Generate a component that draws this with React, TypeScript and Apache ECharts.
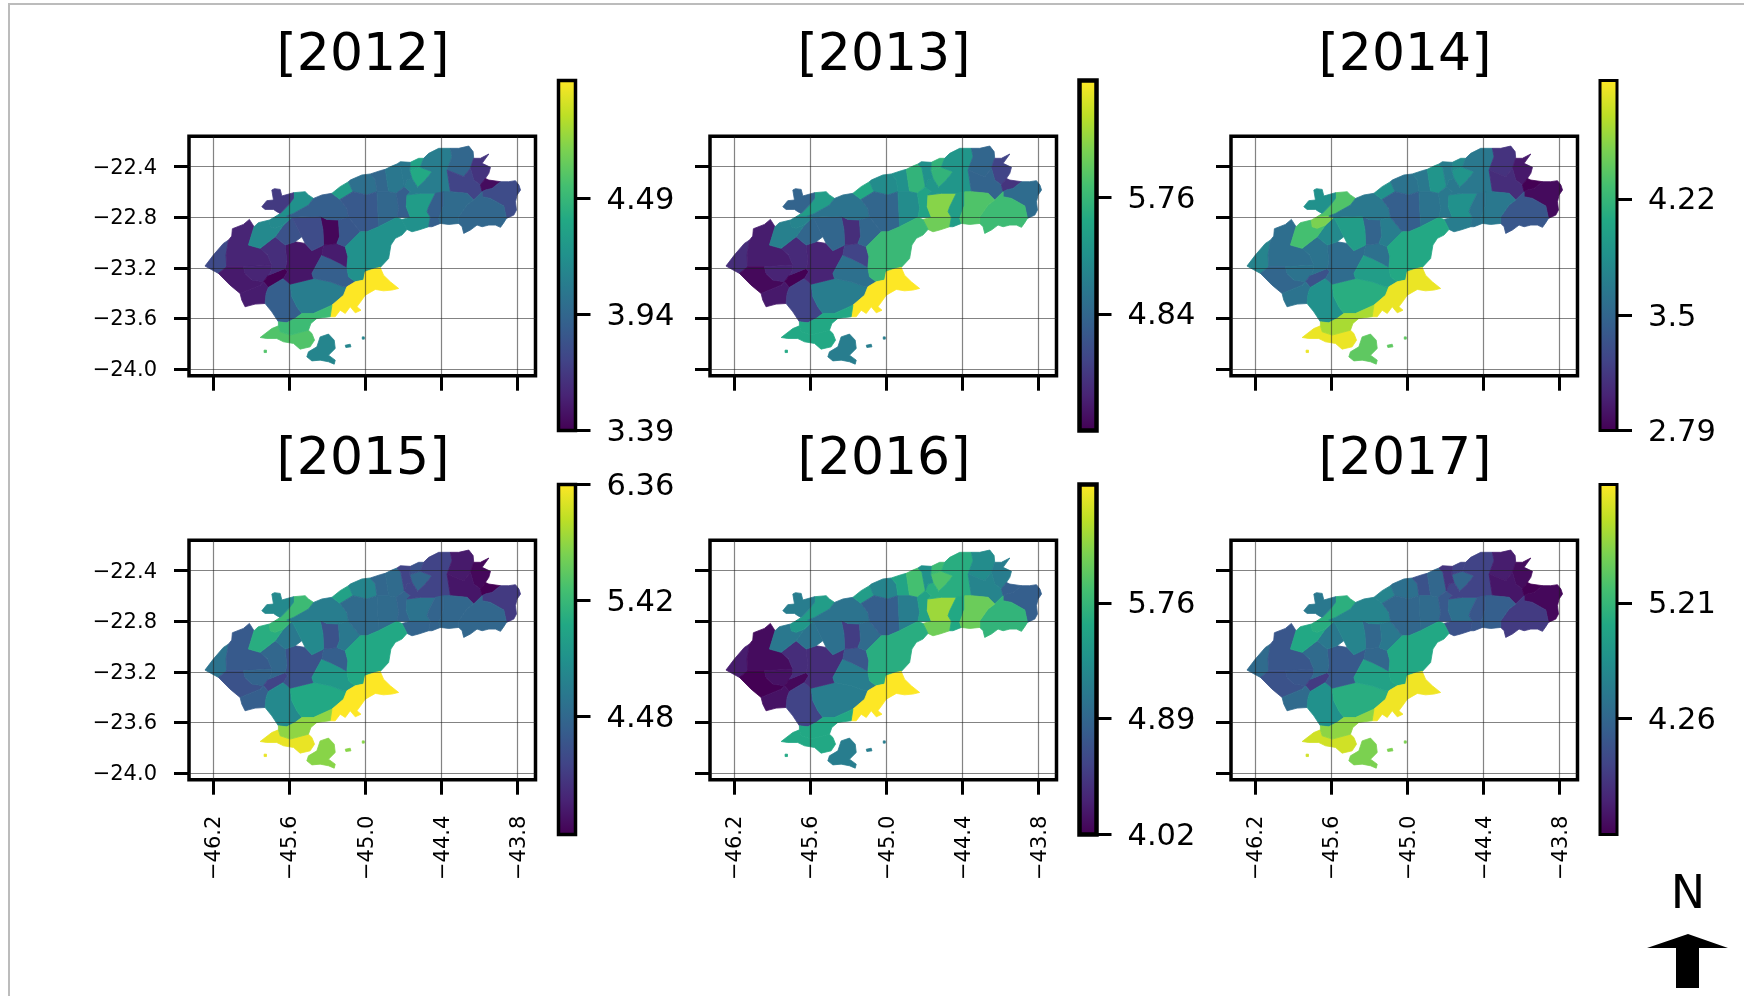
import React, { useEffect, useRef } from "react";
import * as echarts from "echarts";

type Pt = [number, number];

const YEARS = ["[2012]", "[2013]", "[2014]", "[2015]", "[2016]", "[2017]"];
const LON_TICKS = [-46.2, -45.6, -45.0, -44.4, -43.8];
const LAT_TICKS = [-24.0, -23.6, -23.2, -22.8, -22.4];

const BAR_MIN = [3.39, 3.92, 2.79, 3.52, 4.02, 3.31];
const BAR_MAX = [5.05, 6.68, 4.95, 6.36, 6.65, 6.18];
const BAR_TICKS = [
  [3.39, 3.94, 4.49],
  [4.84, 5.76],
  [2.79, 3.5, 4.22],
  [4.48, 5.42, 6.36],
  [4.02, 4.89, 5.76],
  [4.26, 5.21],
];

const VIRIDIS = [
  "#440154", "#482475", "#414487", "#355f8d", "#2a788e", "#21918c",
  "#22a884", "#44bf70", "#7ad151", "#bddf26", "#fde725",
];

// Municipality outlines in [longitude, latitude].
const DISTRICTS: Pt[][] = [
  [[-46.266,-23.186],[-46.2,-23.099],[-46.121,-23.007],[-46.081,-22.981],[-46.1,-23.099],[-46.095,-23.192],[-46.16,-23.244]],
  [[-46.081,-22.981],[-46.055,-22.949],[-46.05,-22.891],[-45.963,-22.857],[-45.916,-22.817],[-45.879,-22.875],[-45.923,-23.02],[-45.831,-23.046],[-45.773,-23.099],[-45.739,-23.178],[-45.963,-23.192],[-46.095,-23.192],[-46.1,-23.099]],
  [[-46.16,-23.244],[-46.095,-23.192],[-45.963,-23.192],[-45.95,-23.244],[-45.897,-23.297],[-45.805,-23.31],[-45.831,-23.337],[-45.989,-23.403],[-46.068,-23.337]],
  [[-45.963,-23.192],[-45.739,-23.178],[-45.739,-23.218],[-45.766,-23.258],[-45.805,-23.31],[-45.897,-23.297],[-45.95,-23.244]],
  [[-45.805,-23.31],[-45.766,-23.258],[-45.634,-23.205],[-45.615,-23.231],[-45.647,-23.284],[-45.766,-23.355]],
  [[-45.989,-23.403],[-45.831,-23.337],[-45.805,-23.31],[-45.766,-23.355],[-45.784,-23.403],[-45.792,-23.482],[-45.871,-23.487],[-45.95,-23.508],[-45.976,-23.455]],
  [[-45.766,-23.355],[-45.647,-23.284],[-45.594,-23.329],[-45.581,-23.429],[-45.542,-23.508],[-45.502,-23.561],[-45.555,-23.6],[-45.621,-23.635],[-45.687,-23.627],[-45.739,-23.548],[-45.792,-23.482],[-45.784,-23.403]],
  [[-45.594,-23.329],[-45.41,-23.284],[-45.279,-23.31],[-45.173,-23.35],[-45.147,-23.35],[-45.173,-23.416],[-45.265,-23.495],[-45.41,-23.561],[-45.502,-23.561],[-45.542,-23.508],[-45.581,-23.429]],
  [[-45.634,-23.02],[-45.555,-22.994],[-45.476,-23.007],[-45.423,-23.065],[-45.331,-23.02],[-45.344,-23.099],[-45.423,-23.244],[-45.41,-23.284],[-45.594,-23.329],[-45.647,-23.284],[-45.615,-23.231],[-45.634,-23.205],[-45.621,-23.152]],
  [[-45.831,-23.046],[-45.713,-22.954],[-45.634,-23.02],[-45.621,-23.152],[-45.634,-23.205],[-45.766,-23.258],[-45.739,-23.218],[-45.739,-23.178],[-45.773,-23.099]],
  [[-45.344,-23.099],[-45.279,-23.126],[-45.2,-23.165],[-45.147,-23.197],[-45.134,-23.271],[-45.081,-23.31],[-45.147,-23.35],[-45.173,-23.35],[-45.279,-23.31],[-45.41,-23.284],[-45.423,-23.244]],
  [[-45.331,-23.02],[-45.226,-23.007],[-45.16,-23.033],[-45.139,-23.112],[-45.147,-23.197],[-45.2,-23.165],[-45.279,-23.126],[-45.344,-23.099]],
  [[-45.358,-22.791],[-45.305,-22.817],[-45.213,-22.822],[-45.205,-22.954],[-45.226,-23.007],[-45.331,-23.02],[-45.336,-22.901]],
  [[-45.713,-22.954],[-45.647,-22.862],[-45.581,-22.801],[-45.542,-22.875],[-45.502,-22.954],[-45.555,-22.994],[-45.634,-23.02]],
  [[-45.581,-22.801],[-45.358,-22.791],[-45.336,-22.901],[-45.331,-23.02],[-45.423,-23.065],[-45.476,-23.007],[-45.502,-22.954],[-45.542,-22.875]],
  [[-45.923,-23.02],[-45.879,-22.875],[-45.845,-22.843],[-45.758,-22.822],[-45.752,-22.875],[-45.713,-22.888],[-45.647,-22.862],[-45.713,-22.954],[-45.831,-23.046]],
  [[-45.713,-22.796],[-45.673,-22.77],[-45.608,-22.704],[-45.568,-22.651],[-45.568,-22.606],[-45.476,-22.598],[-45.45,-22.624],[-45.41,-22.651],[-45.45,-22.704],[-45.568,-22.77],[-45.621,-22.791]],
  [[-45.758,-22.822],[-45.713,-22.796],[-45.621,-22.791],[-45.581,-22.801],[-45.647,-22.862],[-45.713,-22.888],[-45.752,-22.875]],
  [[-45.818,-22.717],[-45.779,-22.669],[-45.726,-22.664],[-45.739,-22.585],[-45.718,-22.574],[-45.673,-22.58],[-45.66,-22.632],[-45.568,-22.606],[-45.568,-22.651],[-45.608,-22.704],[-45.673,-22.77],[-45.7,-22.756],[-45.726,-22.738],[-45.792,-22.738]],
  [[-45.41,-22.651],[-45.344,-22.624],[-45.265,-22.611],[-45.2,-22.659],[-45.147,-22.73],[-45.134,-22.801],[-45.213,-22.822],[-45.305,-22.817],[-45.358,-22.791],[-45.581,-22.801],[-45.621,-22.791],[-45.568,-22.77],[-45.45,-22.704]],
  [[-45.213,-22.822],[-45.134,-22.801],[-45.042,-22.915],[-45.16,-23.033],[-45.226,-23.007],[-45.205,-22.954]],
  [[-45.265,-22.611],[-45.2,-22.558],[-45.134,-22.519],[-45.1,-22.598],[-45.2,-22.659]],
  [[-45.134,-22.519],[-45.121,-22.506],[-45.029,-22.466],[-44.963,-22.458],[-44.923,-22.506],[-44.91,-22.598],[-44.989,-22.624],[-45.1,-22.598]],
  [[-45.2,-22.659],[-45.1,-22.598],[-44.989,-22.624],[-44.91,-22.598],[-44.897,-22.875],[-44.989,-22.915],[-45.042,-22.915],[-45.134,-22.801],[-45.147,-22.73]],
  [[-44.963,-22.458],[-44.884,-22.432],[-44.844,-22.421],[-44.818,-22.598],[-44.91,-22.598],[-44.923,-22.506]],
  [[-44.844,-22.421],[-44.792,-22.395],[-44.752,-22.379],[-44.721,-22.413],[-44.694,-22.558],[-44.757,-22.611],[-44.818,-22.598]],
  [[-44.91,-22.598],[-44.818,-22.598],[-44.757,-22.611],[-44.739,-22.73],[-44.752,-22.801],[-44.897,-22.875]],
  [[-44.757,-22.611],[-44.694,-22.558],[-44.647,-22.598],[-44.673,-22.624],[-44.679,-22.717],[-44.647,-22.801],[-44.752,-22.801],[-44.739,-22.73]],
  [[-44.673,-22.624],[-44.568,-22.611],[-44.45,-22.611],[-44.502,-22.717],[-44.515,-22.756],[-44.489,-22.801],[-44.647,-22.801],[-44.679,-22.717]],
  [[-44.713,-22.817],[-44.647,-22.801],[-44.489,-22.801],[-44.502,-22.875],[-44.581,-22.901],[-44.634,-22.915],[-44.673,-22.896]],
  [[-45.16,-23.033],[-45.042,-22.915],[-44.989,-22.915],[-44.897,-22.875],[-44.752,-22.801],[-44.713,-22.817],[-44.673,-22.896],[-44.713,-22.941],[-44.765,-22.967],[-44.8,-23.02],[-44.818,-23.126],[-44.884,-23.197],[-44.923,-23.205],[-45.002,-23.231],[-45.015,-23.297],[-45.081,-23.31],[-45.134,-23.271],[-45.147,-23.197],[-45.139,-23.112]],
  [[-44.652,-22.432],[-44.568,-22.405],[-44.476,-22.44],[-44.529,-22.506],[-44.589,-22.564],[-44.634,-22.493]],
  [[-44.647,-22.366],[-44.581,-22.334],[-44.542,-22.334],[-44.568,-22.405],[-44.652,-22.432]],
  [[-44.542,-22.334],[-44.502,-22.295],[-44.423,-22.255],[-44.331,-22.255],[-44.318,-22.321],[-44.357,-22.427],[-44.331,-22.598],[-44.45,-22.611],[-44.568,-22.611],[-44.673,-22.624],[-44.647,-22.598],[-44.694,-22.558],[-44.673,-22.506],[-44.634,-22.493],[-44.589,-22.564],[-44.529,-22.506],[-44.476,-22.44],[-44.568,-22.405]],
  [[-44.331,-22.255],[-44.265,-22.255],[-44.186,-22.237],[-44.152,-22.281],[-44.147,-22.334],[-44.173,-22.413],[-44.226,-22.479],[-44.357,-22.427],[-44.318,-22.321]],
  [[-44.147,-22.334],[-44.094,-22.334],[-44.028,-22.3],[-44.081,-22.374],[-44.015,-22.405],[-44.028,-22.453],[-44.055,-22.493],[-44.094,-22.545],[-44.147,-22.506],[-44.173,-22.413]],
  [[-44.357,-22.427],[-44.226,-22.479],[-44.173,-22.413],[-44.147,-22.506],[-44.094,-22.545],[-44.081,-22.598],[-44.147,-22.664],[-44.2,-22.611],[-44.331,-22.598]],
  [[-44.055,-22.493],[-44.028,-22.506],[-43.936,-22.519],[-44.002,-22.572],[-44.055,-22.585],[-44.081,-22.598],[-44.094,-22.545]],
  [[-44.055,-22.585],[-44.002,-22.572],[-43.936,-22.519],[-43.871,-22.519],[-43.818,-22.511],[-43.791,-22.545],[-43.778,-22.585],[-43.805,-22.624],[-43.818,-22.677],[-43.81,-22.743],[-43.831,-22.783],[-43.889,-22.809],[-43.91,-22.711],[-44.015,-22.651],[-44.081,-22.638],[-44.081,-22.598]],
  [[-44.147,-22.664],[-44.081,-22.598],[-44.081,-22.638],[-44.015,-22.651],[-43.91,-22.711],[-43.889,-22.809],[-43.91,-22.843],[-43.936,-22.88],[-43.976,-22.862],[-44.028,-22.862],[-44.081,-22.875],[-44.121,-22.862],[-44.173,-22.901],[-44.226,-22.928],[-44.239,-22.875],[-44.265,-22.849],[-44.265,-22.796],[-44.2,-22.704]],
  [[-44.45,-22.611],[-44.384,-22.598],[-44.384,-22.704],[-44.423,-22.809],[-44.41,-22.849],[-44.476,-22.875],[-44.502,-22.875],[-44.489,-22.801],[-44.515,-22.756],[-44.502,-22.717]],
  [[-44.384,-22.598],[-44.331,-22.598],[-44.2,-22.611],[-44.147,-22.664],[-44.2,-22.704],[-44.265,-22.796],[-44.265,-22.849],[-44.344,-22.857],[-44.41,-22.849],[-44.423,-22.809],[-44.384,-22.704]],
  [[-44.923,-23.205],[-44.884,-23.197],[-44.858,-23.258],[-44.805,-23.31],[-44.739,-23.363],[-44.792,-23.376],[-44.858,-23.382],[-44.923,-23.371],[-45.002,-23.416],[-45.029,-23.455],[-45.068,-23.508],[-45.036,-23.535],[-45.081,-23.556],[-45.121,-23.508],[-45.16,-23.561],[-45.2,-23.535],[-45.239,-23.587],[-45.279,-23.587],[-45.265,-23.495],[-45.173,-23.416],[-45.147,-23.35],[-45.081,-23.31],[-45.015,-23.297],[-45.002,-23.231]],
  [[-45.831,-23.751],[-45.739,-23.68],[-45.687,-23.659],[-45.673,-23.706],[-45.594,-23.732],[-45.45,-23.693],[-45.423,-23.719],[-45.402,-23.772],[-45.437,-23.825],[-45.516,-23.843],[-45.568,-23.798],[-45.647,-23.785],[-45.7,-23.759],[-45.779,-23.759]],
  [[-45.687,-23.627],[-45.621,-23.635],[-45.555,-23.6],[-45.502,-23.561],[-45.41,-23.561],[-45.265,-23.495],[-45.279,-23.587],[-45.384,-23.6],[-45.431,-23.64],[-45.45,-23.693],[-45.594,-23.732],[-45.673,-23.706],[-45.687,-23.659]],
  [[-45.463,-23.904],[-45.45,-23.864],[-45.384,-23.825],[-45.358,-23.746],[-45.292,-23.724],[-45.247,-23.772],[-45.239,-23.838],[-45.292,-23.891],[-45.239,-23.93],[-45.247,-23.962],[-45.292,-23.943],[-45.358,-23.93],[-45.423,-23.936]],
  [[-44.752,-22.379],[-44.726,-22.361],[-44.647,-22.366],[-44.652,-22.432],[-44.634,-22.493],[-44.673,-22.506],[-44.694,-22.558],[-44.721,-22.413]],
];

// Small islets, keyed by the district they belong to.
const ISLETS: Record<number, Pt[][]> = {
  43: [[[-45.8,-23.851],[-45.781,-23.851],[-45.781,-23.87],[-45.8,-23.87]]],
  45: [
    [[-45.16,-23.812],[-45.121,-23.804],[-45.115,-23.825],[-45.155,-23.83]],
    [[-45.026,-23.746],[-45.01,-23.746],[-45.01,-23.764],[-45.026,-23.764]],
  ],
};

const VALUES_2012 = [3.76,3.56,3.51,3.56,3.39,3.52,3.89,4.09,3.49,3.61,3.89,3.52,3.42,3.81,3.77,4.17,4.22,4.17,3.67,3.89,3.84,4.30,4.00,3.85,3.94,4.05,3.94,3.89,4.30,4.22,4.22,4.39,4.35,4.09,3.94,3.64,3.72,3.44,3.77,3.94,3.89,3.97,5.05,4.59,4.52,4.14,4.05];
const VALUES_2013 = [4.28,4.14,3.98,4.20,3.92,4.11,4.47,5.08,4.20,4.25,4.94,4.47,4.28,4.83,4.83,5.11,5.44,5.16,4.80,4.97,4.83,5.58,5.24,4.83,5.30,5.71,5.24,5.52,6.18,6.07,5.77,5.71,5.71,5.36,4.83,4.47,4.80,4.33,4.89,5.80,5.44,5.91,6.68,5.58,5.58,5.08,5.30];
const VALUES_2014 = [3.76,3.57,3.50,3.61,3.33,3.61,3.87,4.13,3.55,3.61,3.98,3.59,3.48,3.81,3.98,4.30,4.35,4.52,3.87,3.65,3.70,3.87,3.61,3.44,3.65,3.91,3.61,3.65,3.87,3.70,4.09,3.91,3.81,3.65,3.11,2.94,3.07,2.79,2.85,3.37,3.61,3.65,4.89,4.89,4.67,4.41,3.70];
const VALUES_2015 = [4.60,4.32,4.23,4.43,4.09,4.37,4.85,5.22,4.23,4.46,5.03,4.37,4.23,4.66,4.85,5.28,5.45,5.42,4.85,4.71,4.66,5.14,4.80,4.51,4.46,4.51,4.51,4.43,4.60,4.43,5.22,4.46,4.23,4.09,3.72,3.58,3.69,3.52,4.00,4.46,4.43,4.46,6.36,6.27,5.88,5.85,4.09];
const VALUES_2016 = [4.23,4.10,4.02,4.15,4.07,4.15,4.55,5.12,4.36,4.36,5.12,4.73,4.49,5.02,4.99,5.07,5.47,5.41,5.12,5.02,4.94,5.47,5.20,4.81,5.55,5.86,5.12,5.52,6.26,6.07,5.65,5.91,5.81,5.65,5.28,5.12,5.20,4.81,4.81,5.73,5.60,6.05,6.65,5.60,5.60,5.12,5.34];
const VALUES_2017 = [4.31,4.08,4.03,4.08,3.80,4.31,4.75,5.09,4.11,4.31,4.95,4.26,4.26,4.46,4.60,5.03,5.12,5.09,4.46,4.60,4.46,4.60,4.37,4.26,4.03,4.26,4.31,4.11,4.37,4.03,5.03,4.26,3.88,3.88,3.54,3.40,3.48,3.31,3.37,3.80,4.08,4.17,6.12,5.98,5.69,5.61,3.74];
const VALUES = [VALUES_2012, VALUES_2013, VALUES_2014, VALUES_2015, VALUES_2016, VALUES_2017];

const FONT = "DejaVu Sans";
const MAP_LEFT = [189, 710, 1231];
const BAR_LEFT = [558.5, 1079.5, 1600];
const BAR_BORDER = [3.5, 4.5, 3];
const ROW_SHIFT = 404;

function hexToRgb(h: string) {
  return [1, 3, 5].map((i) => parseInt(h.slice(i, i + 2), 16));
}
function viridis(t: number) {
  const x = Math.max(0, Math.min(1, t)) * (VIRIDIS.length - 1);
  const i = Math.min(Math.floor(x), VIRIDIS.length - 2);
  const a = hexToRgb(VIRIDIS[i]);
  const b = hexToRgb(VIRIDIS[i + 1]);
  const f = x - i;
  const c = a.map((v, k) => Math.round(v + (b[k] - v) * f));
  return `rgb(${c[0]},${c[1]},${c[2]})`;
}
const minus = (v: number, d: number) => "\u2212" + Math.abs(v).toFixed(d);

function buildOption() {
  const grid: any[] = [];
  const xAxis: any[] = [];
  const yAxis: any[] = [];
  const series: any[] = [];
  const title: any[] = [];

  YEARS.forEach((year, p) => {
    const col = p % 3;
    const row = Math.floor(p / 3);
    const shift = row * ROW_SHIFT;
    title.push({
      text: year,
      left: MAP_LEFT[col] + 169,
      top: 21 + shift,
      textAlign: "center",
      textStyle: { fontFamily: FONT, fontSize: 52, fontWeight: "normal", color: "#000" },
    });
    grid.push({
      left: MAP_LEFT[col], top: 136.3 + shift, width: 346.5, height: 239.4,
      show: true, borderColor: "#000", borderWidth: 3.5, backgroundColor: "#fff", containLabel: false,
    });
    const tick = { show: true, length: 15, lineStyle: { color: "#000", width: 3 } };
    const split = { show: true, lineStyle: { color: "rgba(30,30,30,0.55)", width: 1.2 } };
    xAxis.push({
      type: "value", gridIndex: p, min: -46.392, max: -43.66, z: 5,
      axisLine: { show: false },
      axisTick: { ...tick, customValues: LON_TICKS },
      splitLine: split,
      axisLabel: {
        show: row === 1, customValues: LON_TICKS, rotate: 90, margin: 36,
        fontFamily: FONT, fontSize: 21, color: "#000",
        formatter: (v: number) => minus(v, 1),
      },
    });
    yAxis.push({
      type: "value", gridIndex: p, min: -24.053, max: -22.16, z: 5,
      axisLine: { show: false },
      axisTick: { ...tick, customValues: LAT_TICKS },
      splitLine: split,
      axisLabel: {
        show: col === 0, customValues: LAT_TICKS, margin: 32,
        fontFamily: FONT, fontSize: 21, color: "#000",
        formatter: (v: number) => minus(v, 1),
      },
    });
    const lo = BAR_MIN[p];
    const hi = BAR_MAX[p];
    series.push({
      type: "custom", xAxisIndex: p, yAxisIndex: p, z: 1, silent: true, clip: false,
      data: VALUES[p].map((v, i) => [i, v]),
      renderItem: (_: any, api: any) => {
        const idx = api.value(0);
        const fill = viridis((api.value(1) - lo) / (hi - lo));
        const rings = [DISTRICTS[idx], ...(ISLETS[idx] || [])];
        return {
          type: "group",
          children: rings.map((r) => ({
            type: "polygon",
            shape: { points: r.map((q) => api.coord(q)) },
            style: { fill, stroke: fill, lineWidth: 0.8 },
          })),
        };
      },
    });
  });

  YEARS.forEach((_, p) => {
    const col = p % 3;
    const row = Math.floor(p / 3);
    const k = p + 6;
    const lo = BAR_MIN[p];
    const hi = BAR_MAX[p];
    grid.push({ left: BAR_LEFT[col], top: 80.5 + row * ROW_SHIFT, width: 17, height: 350 });
    xAxis.push({ type: "value", gridIndex: k, min: 0, max: 1, show: false });
    yAxis.push({
      type: "value", gridIndex: k, position: "right", min: lo, max: hi, z: 5,
      axisLine: { show: false, onZero: false },
      splitLine: { show: false },
      axisTick: { show: true, length: 15, customValues: BAR_TICKS[p], lineStyle: { color: "#000", width: 3 } },
      axisLabel: {
        show: true, customValues: BAR_TICKS[p], margin: 31,
        fontFamily: FONT, fontSize: 30.5, color: "#000",
      },
    });
    series.push({
      type: "custom", xAxisIndex: k, yAxisIndex: k, z: 1, silent: true, clip: false,
      data: [[0, 1, lo, hi]],
      renderItem: (_p: any, api: any) => {
        const a = api.coord([api.value(0), api.value(3)]);
        const b = api.coord([api.value(1), api.value(2)]);
        return {
          type: "rect",
          shape: { x: a[0], y: a[1], width: b[0] - a[0], height: b[1] - a[1] },
          style: {
            fill: {
              type: "linear", x: 0, y: 1, x2: 0, y2: 0,
              colorStops: VIRIDIS.map((color, i) => ({ offset: i / (VIRIDIS.length - 1), color })),
            },
            stroke: "#000",
            lineWidth: BAR_BORDER[col],
          },
        };
      },
    });
  });

  return {
    animation: false,
    backgroundColor: "#fff",
    tooltip: { show: false },
    title,
    grid,
    xAxis,
    yAxis,
    series,
    graphic: [
      {
        type: "polyline",
        shape: { points: [[9, 996], [9, 4], [1744, 4]] },
        style: { stroke: "#bcbcbc", lineWidth: 2, fill: "none" },
      },
      {
        type: "text", x: 1688, y: 892,
        style: { text: "N", fontFamily: FONT, fontSize: 46, fill: "#000", align: "center", verticalAlign: "middle" },
      },
      {
        type: "polygon",
        shape: { points: [[1688, 934], [1728, 948], [1699, 948], [1699, 988], [1676, 988], [1676, 948], [1647, 948]] },
        style: { fill: "#000" },
      },
    ],
  };
}

export default function App() {
  const ref = useRef<HTMLDivElement>(null);
  useEffect(() => {
    document.body.style.margin = "0";
    const chart = echarts.init(ref.current as HTMLDivElement, undefined, { renderer: "svg" });
    chart.setOption(buildOption() as any);
    return () => chart.dispose();
  }, []);
  return <div ref={ref} style={{ width: 1744, height: 996, filter: "blur(0.7px)" }} />;
}
